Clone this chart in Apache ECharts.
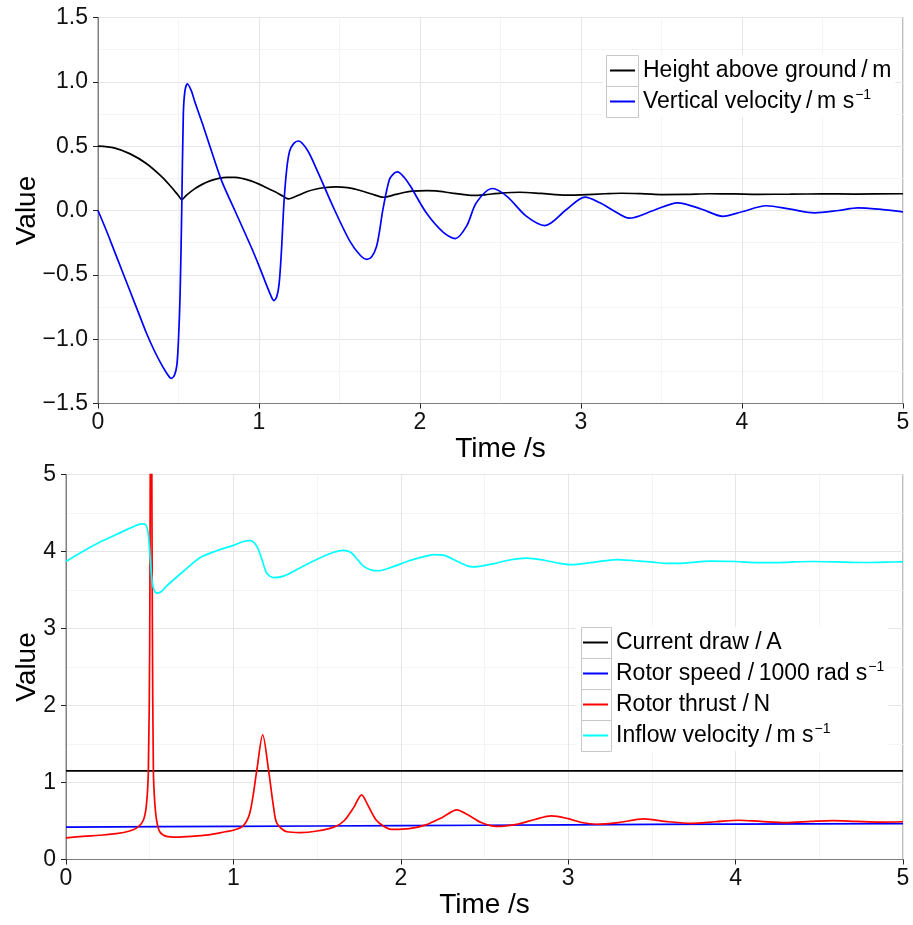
<!DOCTYPE html>
<html>
<head>
<meta charset="utf-8">
<script src="https://cdn.jsdelivr.net/npm/echarts@6/dist/echarts.min.js"></script>
<style>
html,body{margin:0;padding:0;background:#fff;}
#chart{width:913px;height:925px;}
</style>
</head>
<body>
<div id="chart"></div>
<script>
// ---------- DATA ----------
// Top panel
const heightT = [0,0.1,0.2,0.3,0.4,0.45,0.5,0.52,0.55,0.6,0.65,0.7,0.75,0.8,0.85,0.9,0.95,1.0,1.05,1.1,1.15,1.185,1.22,1.26,1.3,1.35,1.4,1.48,1.55,1.6,1.65,1.7,1.75,1.775,1.8,1.85,1.9,1.95,2.04,2.1,2.2,2.3,2.33,2.4,2.5,2.62,2.75,2.91,3.0,3.15,3.25,3.4,3.5,3.65,3.8,3.95,4.1,4.3,4.5,4.7,5.0];
const heightV = [0.5,0.487,0.44,0.365,0.258,0.19,0.115,0.085,0.12,0.168,0.205,0.232,0.25,0.258,0.258,0.248,0.23,0.205,0.175,0.145,0.11,0.09,0.105,0.127,0.148,0.165,0.177,0.184,0.178,0.165,0.148,0.128,0.108,0.103,0.108,0.125,0.14,0.15,0.155,0.152,0.135,0.12,0.117,0.122,0.135,0.142,0.133,0.119,0.122,0.13,0.134,0.129,0.124,0.125,0.13,0.129,0.126,0.127,0.129,0.128,0.13];

const velT = [0,0.05,0.1,0.15,0.2,0.25,0.3,0.35,0.4,0.43,0.455,0.475,0.49,0.5,0.51,0.52,0.53,0.54,0.555,0.58,0.6,0.65,0.7,0.768,0.85,0.95,1.0,1.05,1.075,1.093,1.11,1.125,1.14,1.155,1.172,1.19,1.215,1.245,1.3,1.358,1.46,1.565,1.63,1.67,1.70,1.73,1.75,1.77,1.81,1.84,1.861,1.9,1.94,2.04,2.145,2.22,2.29,2.35,2.45,2.54,2.66,2.776,2.91,3.025,3.118,3.2,3.3,3.45,3.6,3.75,3.88,4.0,4.15,4.3,4.45,4.6,4.72,4.85,5.0];
const velV = [0,-0.15,-0.31,-0.47,-0.63,-0.79,-0.95,-1.09,-1.21,-1.27,-1.305,-1.28,-1.2,-1.0,-0.65,0.0,0.75,0.93,0.985,0.93,0.85,0.67,0.48,0.23,0.0,-0.28,-0.43,-0.59,-0.665,-0.70,-0.67,-0.57,-0.30,0.06,0.32,0.46,0.52,0.54,0.47,0.32,0.03,-0.24,-0.35,-0.38,-0.36,-0.28,-0.15,0.01,0.24,0.29,0.30,0.26,0.19,-0.02,-0.17,-0.218,-0.12,0.06,0.171,0.11,-0.044,-0.117,0.008,0.104,0.06,0.0,-0.06,0.0,0.06,0.01,-0.045,-0.01,0.037,0.01,-0.018,0.0,0.02,0.01,-0.01];

// Bottom panel
const currentT = [0,5];
const currentV = [1.15,1.15];

const speedT = [0,1,2,3,4,5];
const speedV = [0.42,0.43,0.44,0.45,0.46,0.465];

const thrustT = [0,0.1,0.2,0.3,0.38,0.43,0.462,0.48,0.492,0.5,0.504,0.508,0.512,0.516,0.522,0.53,0.542,0.56,0.6,0.66,0.75,0.85,0.95,1.0,1.06,1.1,1.14,1.175,1.21,1.24,1.26,1.32,1.4,1.5,1.6,1.66,1.72,1.766,1.8,1.85,1.9,1.953,2.05,2.15,2.25,2.334,2.4,2.48,2.57,2.7,2.8,2.9,3.0,3.08,3.17,3.3,3.45,3.6,3.73,3.88,4.02,4.15,4.3,4.45,4.58,4.72,4.87,5.0];
const thrustV = [0.28,0.30,0.315,0.335,0.37,0.42,0.51,0.70,1.16,2.8,5.5,8,5.5,3.0,1.16,0.75,0.5,0.36,0.30,0.29,0.30,0.32,0.36,0.38,0.44,0.62,1.16,1.62,1.16,0.68,0.47,0.36,0.35,0.37,0.42,0.50,0.68,0.84,0.72,0.52,0.43,0.39,0.40,0.45,0.55,0.645,0.58,0.48,0.43,0.46,0.52,0.566,0.53,0.48,0.458,0.48,0.527,0.49,0.47,0.49,0.51,0.495,0.48,0.495,0.505,0.495,0.485,0.49];

const inflowT = [0,0.1,0.2,0.3,0.4,0.452,0.475,0.49,0.502,0.516,0.53,0.545,0.57,0.6,0.7,0.8,0.9,1.0,1.06,1.1,1.139,1.17,1.199,1.24,1.3,1.4,1.5,1.6,1.657,1.7,1.74,1.776,1.83,1.866,1.95,2.05,2.15,2.2,2.26,2.33,2.4,2.433,2.55,2.65,2.752,2.85,2.95,3.011,3.15,3.29,3.4,3.49,3.6,3.7,3.85,4.0,4.15,4.3,4.45,4.6,4.75,4.9,5.0];
const inflowV = [3.87,4.0,4.12,4.22,4.32,4.36,4.35,4.25,3.94,3.59,3.48,3.46,3.48,3.55,3.74,3.92,4.01,4.08,4.13,4.14,4.07,3.90,3.72,3.66,3.68,3.79,3.90,3.99,4.015,3.99,3.9,3.81,3.755,3.75,3.80,3.88,3.94,3.96,3.95,3.88,3.81,3.80,3.84,3.89,3.915,3.89,3.845,3.83,3.86,3.895,3.88,3.865,3.845,3.85,3.875,3.87,3.855,3.86,3.87,3.865,3.857,3.862,3.865];

// Axis tick values
const xTicks = [0,1,2,3,4,5];
const topYTicks = [-1.5,-1.0,-0.5,0.0,0.5,1.0,1.5];
const botYTicks = [0,1,2,3,4,5];

// Labels
const topNames = ['Height above ground/m', 'Vertical velocity/m s−1'];
const botNames = ['Current draw /A', 'Rotor speed /1000 rad s−1', 'Rotor thrust /N', 'Inflow velocity /m s−1'];
const legendRich = {
  'Height above ground/m': 'Height above ground\u2009/\u2009m',
  'Vertical velocity/m s−1': 'Vertical velocity\u2009/\u2009m s{sup|−1}',
  'Current draw /A': 'Current draw /\u2009A',
  'Rotor speed /1000 rad s−1': 'Rotor speed /\u20091000 rad s{sup|−1}',
  'Rotor thrust /N': 'Rotor thrust /\u2009N',
  'Inflow velocity /m s−1': 'Inflow velocity /\u2009m s{sup|−1}'
};

// ---------- CHART ----------
const FONT = "'Liberation Sans', Arial, Helvetica, sans-serif";
const zip = (a, b) => a.map((t, i) => [t, b[i]]);

function xAxisCfg(gi) {
  return {
    type: 'value', gridIndex: gi, min: xTicks[0], max: xTicks[xTicks.length - 1], interval: 1,
    name: 'Time /s', nameLocation: 'middle', nameGap: 32,
    nameTextStyle: { fontSize: 28, color: '#000', fontFamily: FONT },
    axisLine: { show: true, onZero: false, lineStyle: { color: '#7f7f7f', width: 1 } },
    axisTick: { show: true, length: 5, lineStyle: { color: '#222', width: 1 } },
    axisLabel: { fontSize: 23, color: '#111', fontFamily: FONT, margin: 8 },
    splitLine: { show: true, lineStyle: { color: '#e6e6e6', width: 1 } },
    minorTick: { show: false, splitNumber: 2 },
    minorSplitLine: { show: true, lineStyle: { color: '#f4f4f4', width: 1 } }
  };
}
function yAxisCfg(gi, ticks, interval, fmt, gap) {
  return {
    type: 'value', gridIndex: gi, min: ticks[0], max: ticks[ticks.length - 1], interval: interval,
    name: 'Value', nameLocation: 'middle', nameGap: gap, nameMoveOverlap: false,
    nameTextStyle: { fontSize: 28, color: '#000', fontFamily: FONT },
    axisLine: { show: true, onZero: false, lineStyle: { color: '#7f7f7f', width: 1 } },
    axisTick: { show: true, length: 5, lineStyle: { color: '#222', width: 1 } },
    axisLabel: { fontSize: 23, color: '#111', fontFamily: FONT, margin: 10, formatter: fmt },
    splitLine: { show: true, lineStyle: { color: '#e6e6e6', width: 1 } },
    minorTick: { show: false, splitNumber: 2 },
    minorSplitLine: { show: true, lineStyle: { color: '#f4f4f4', width: 1 } }
  };
}
function lineSeries(name, xi, t, v, color, smooth) {
  return {
    type: 'line', name: name, xAxisIndex: xi, yAxisIndex: xi,
    data: zip(t, v), showSymbol: false, symbol: 'none', smooth: smooth,
    lineStyle: { color: color, width: 1.7 }, itemStyle: { color: color },
    clip: true, animation: false
  };
}
function legendCfg(names, left, top) {
  return {
    data: names, orient: 'vertical', left: left, top: top,
    padding: [0, 4, 0, 7], itemGap: 0, itemWidth: 25, itemHeight: 2, icon: 'rect',
    backgroundColor: '#ffffff',
    formatter: n => legendRich[n],
    textStyle: {
      fontSize: 23, color: '#000', fontFamily: FONT, lineHeight: 31, padding: [0, 0, 0, 3],
      rich: { sup: { fontSize: 14, color: '#000', fontFamily: FONT, verticalAlign: 'top', lineHeight: 18, padding: [2, 0, 0, 1] } }
    },
    selectedMode: false
  };
}
function keyBoxes(x, y, w, h, n) {
  const out = [];
  for (let i = 0; i < n; i++) {
    out.push({ type: 'rect', z: 100, silent: true,
      shape: { x: x, y: y + i * h, width: w, height: h },
      style: { fill: null, stroke: '#c8c8c8', lineWidth: 1 } });
  }
  return out;
}

const fmtTop = v => (Math.abs(v) < 1e-9 ? '0.0' : v.toFixed(1).replace('-', '−'));
const fmtBot = v => String(v);

const chart = echarts.init(document.getElementById('chart'), null, { renderer: 'canvas' });
chart.setOption({
  animation: false,
  backgroundColor: '#ffffff',
  grid: [
    { left: 98, right: 10, top: 17.5, height: 386, containLabel: false, outerBoundsMode: 'none', show: true, borderColor: '#7f7f7f', borderWidth: 1, backgroundColor: 'transparent' },
    { left: 66, right: 10, top: 474.5, height: 385, containLabel: false, outerBoundsMode: 'none', show: true, borderColor: '#7f7f7f', borderWidth: 1, backgroundColor: 'transparent' }
  ],
  xAxis: [xAxisCfg(0), xAxisCfg(1)],
  yAxis: [yAxisCfg(0, topYTicks, 0.5, fmtTop, 57), yAxisCfg(1, botYTicks, 1, fmtBot, 25)],
  legend: [legendCfg(topNames, 603, 55), legendCfg(botNames, 576, 627)],
  graphic: keyBoxes(606.5, 55.5, 32, 31, 2).concat(keyBoxes(581.5, 627.5, 30, 31, 4)),
  series: [
    lineSeries(topNames[0], 0, heightT, heightV, '#000000', 0.3),
    lineSeries(topNames[1], 0, velT, velV, '#0000ff', 0.3),
    lineSeries(botNames[0], 1, currentT, currentV, '#000000', false),
    lineSeries(botNames[1], 1, speedT, speedV, '#0000ff', 0.3),
    lineSeries(botNames[2], 1, thrustT, thrustV, '#ff0000', 0.3),
    lineSeries(botNames[3], 1, inflowT, inflowV, '#00ffff', 0.3)
  ]
});
</script>
</body>
</html>
